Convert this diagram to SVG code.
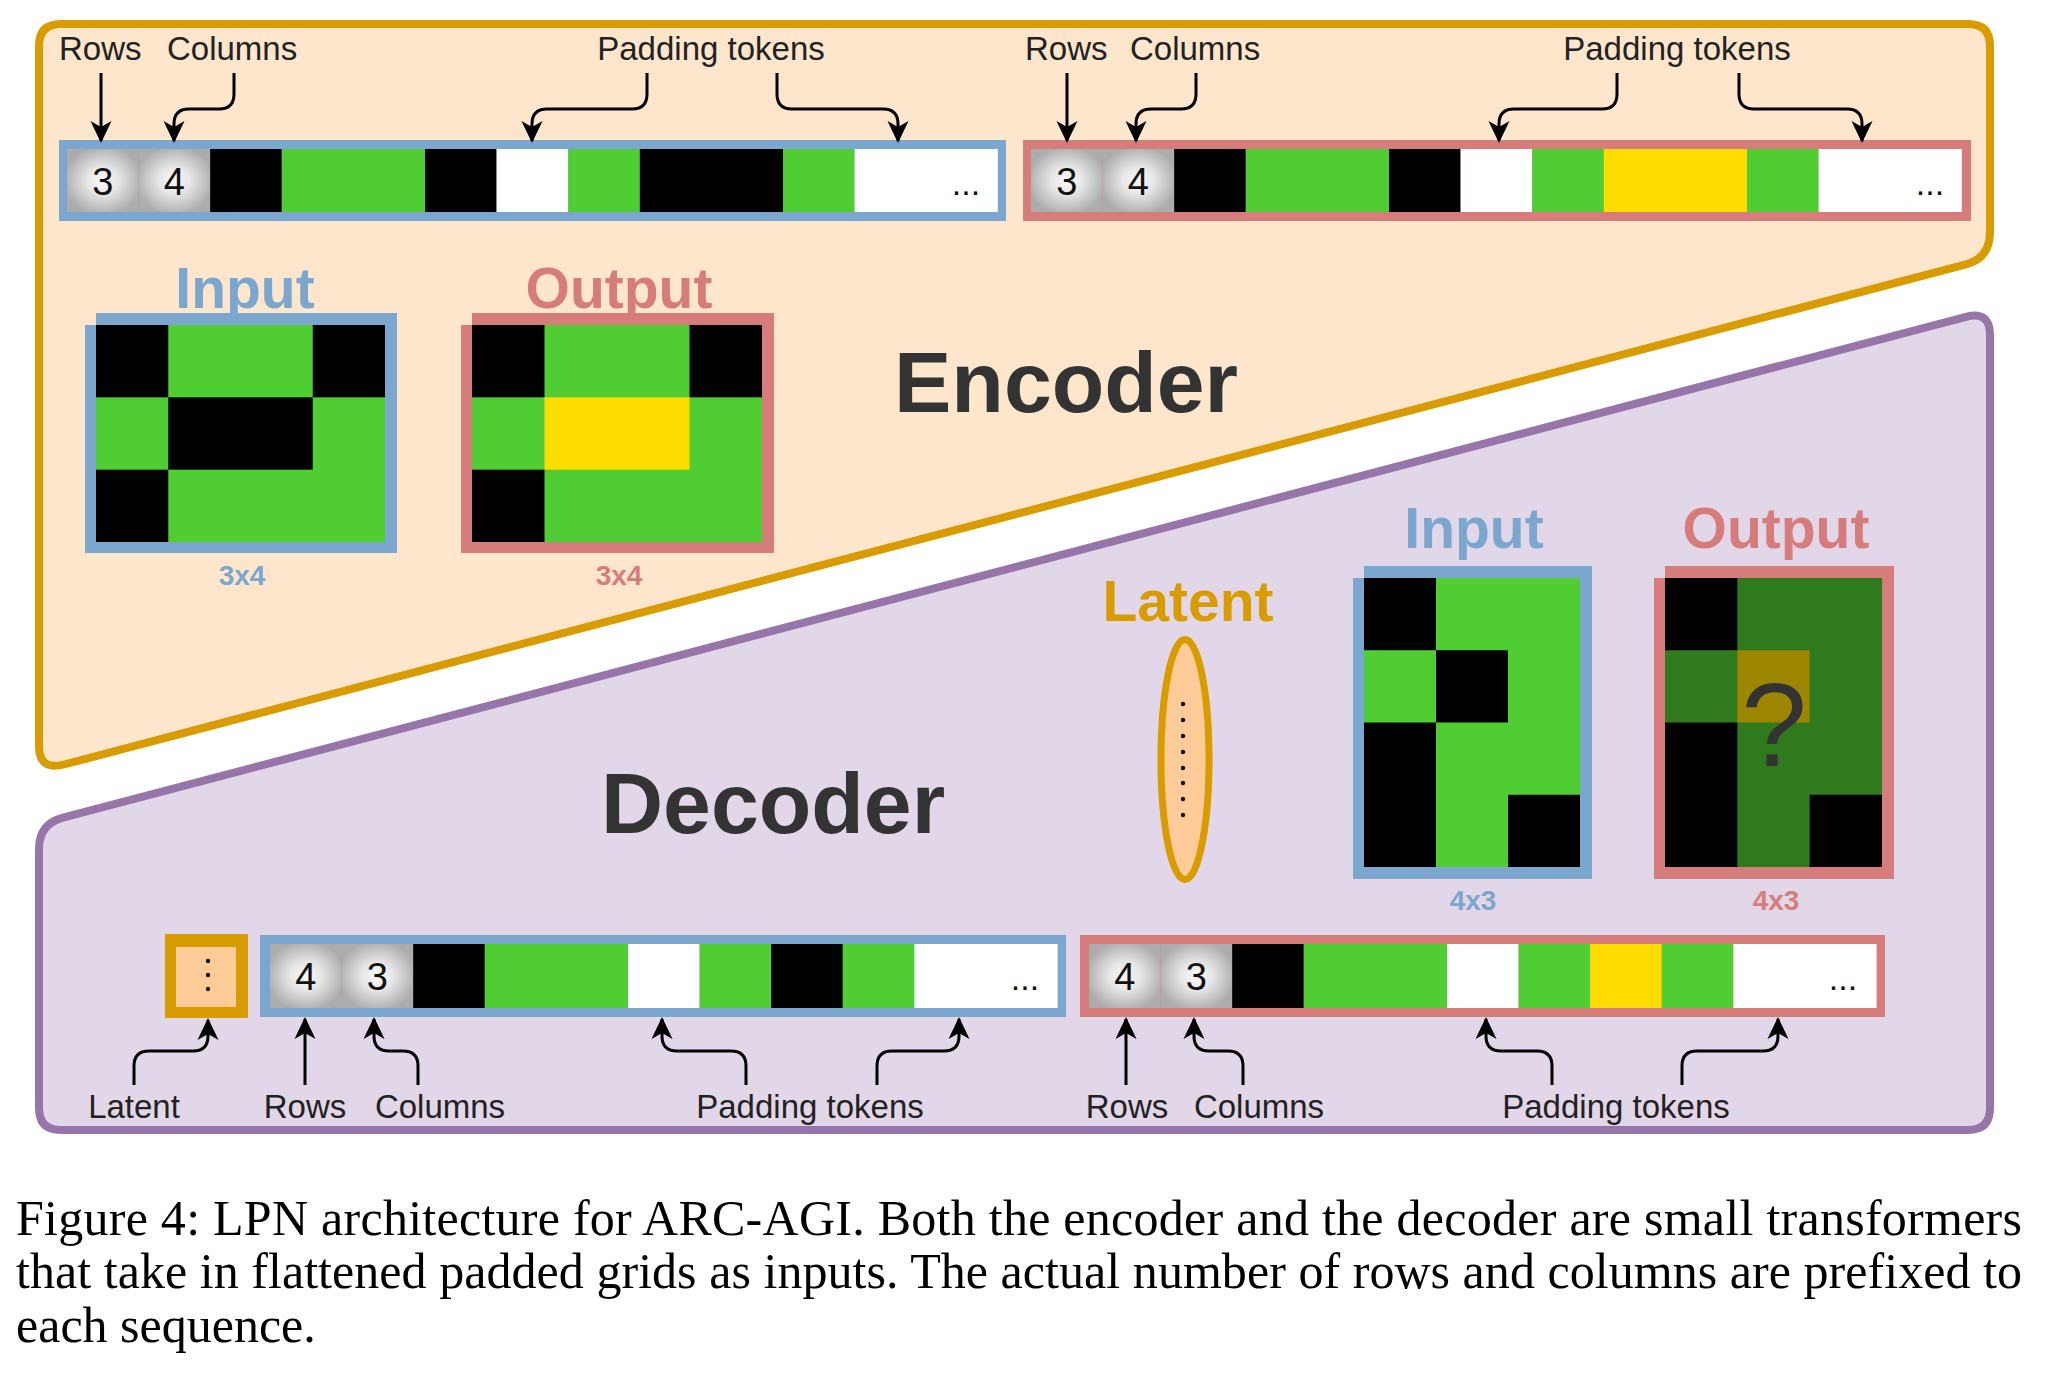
<svg xmlns="http://www.w3.org/2000/svg" width="2048" height="1376" viewBox="0 0 2048 1376">
<style>
.lbl{font-family:"Liberation Sans",Arial,sans-serif;font-size:33px;fill:#222}
.num{font-family:"Liberation Sans",Arial,sans-serif;font-size:38px;fill:#111;text-anchor:middle}
.dots{font-family:"Liberation Sans",Arial,sans-serif;font-size:34px;fill:#111;text-anchor:middle}
.big{font-family:"Liberation Sans",Arial,sans-serif;font-weight:bold;font-size:86px;fill:#333}
.gl{font-family:"Liberation Sans",Arial,sans-serif;font-weight:bold;font-size:57px;text-anchor:middle}
.dim{font-family:"Liberation Sans",Arial,sans-serif;font-weight:bold;font-size:28px;text-anchor:middle}
.cap{font-family:"Liberation Serif","Times New Roman",serif;font-size:50px;fill:#000}
.arr{fill:none;stroke:#000;stroke-width:3}
.G{fill:#50CD32}.B{fill:#000}.W{fill:#fff}.Y{fill:#FFDC00}.Gr{fill:url(#gray)}
.DG{fill:#2F7A1D}.DY{fill:#9C8600}
</style>
<defs>
<radialGradient id="gray" cx="0.5" cy="0.5" r="0.55">
<stop offset="0" stop-color="#fafafa"/>
<stop offset="0.4" stop-color="#e6e6e6"/>
<stop offset="1" stop-color="#acacac"/>
</radialGradient>
<marker id="ah" markerUnits="userSpaceOnUse" markerWidth="28" markerHeight="26" viewBox="-24 -13 28 26" refX="0" refY="0" orient="auto">
<path d="M2,0 L-20,-10.5 L-14,0 L-20,10.5 Z" fill="#000"/>
</marker>
</defs>

<rect width="2048" height="1376" fill="#fff"/>

<!-- Encoder panel -->
<g id="encoder-panel">
<path d="M39,46 Q39,24 61,24 H1968 Q1990,24 1990,46 V232 Q1990,258 1966,264.3 L64,764.5 Q39,771 39,746 Z" fill="#FEE6CD" stroke="#D89C00" stroke-width="8" stroke-linejoin="round"/>
<text class="big" x="894" y="412">Encoder</text>
</g>

<!-- Decoder panel -->
<g id="decoder-panel">
<path d="M39,849 Q39,824 63,817.7 L1966,316.8 Q1990,310.5 1990,335 V1108 Q1990,1130 1968,1130 H61 Q39,1130 39,1108 Z" fill="#E2D6E9" stroke="#9775A8" stroke-width="8" stroke-linejoin="round"/>
<text class="big" x="601" y="833">Decoder</text>
</g>

<!-- Encoder input sequence -->
<g id="enc-in-seq">
<rect x="59" y="140" width="947" height="81" fill="#7BA6CE"/>
<rect class="Gr" x="67" y="149" width="71.6" height="63"/>
<rect class="Gr" x="138.6" y="149" width="71.6" height="63"/>
<rect class="B" x="210.2" y="149" width="71.6" height="63"/>
<rect class="G" x="281.8" y="149" width="143.2" height="63"/>
<rect class="B" x="425" y="149" width="71.6" height="63"/>
<rect class="W" x="496.6" y="149" width="71.6" height="63"/>
<rect class="G" x="568.2" y="149" width="71.6" height="63"/>
<rect class="B" x="639.8" y="149" width="143.2" height="63"/>
<rect class="G" x="783" y="149" width="71.6" height="63"/>
<rect class="W" x="854.6" y="149" width="143.2" height="63"/>
<text class="num" x="102.8" y="195">3</text>
<text class="num" x="174.4" y="195">4</text>
<text class="dots" x="966" y="195">...</text>
</g>

<!-- Encoder output sequence -->
<g id="enc-out-seq">
<rect x="1023" y="140" width="948" height="81" fill="#D67D7B"/>
<rect class="Gr" x="1031" y="149" width="71.6" height="63"/>
<rect class="Gr" x="1102.6" y="149" width="71.6" height="63"/>
<rect class="B" x="1174.2" y="149" width="71.6" height="63"/>
<rect class="G" x="1245.8" y="149" width="143.2" height="63"/>
<rect class="B" x="1389" y="149" width="71.6" height="63"/>
<rect class="W" x="1460.6" y="149" width="71.6" height="63"/>
<rect class="G" x="1532.2" y="149" width="71.6" height="63"/>
<rect class="Y" x="1603.8" y="149" width="143.2" height="63"/>
<rect class="G" x="1747" y="149" width="71.6" height="63"/>
<rect class="W" x="1818.6" y="149" width="143.2" height="63"/>
<text class="num" x="1066.8" y="195">3</text>
<text class="num" x="1138.4" y="195">4</text>
<text class="dots" x="1930" y="195">...</text>
</g>

<!-- Encoder labels -->
<g id="enc-labels">
<text class="lbl" x="59" y="60">Rows</text>
<text class="lbl" x="167" y="60">Columns</text>
<text class="lbl" x="711" y="60" text-anchor="middle">Padding tokens</text>
<text class="lbl" x="1025" y="60">Rows</text>
<text class="lbl" x="1130" y="60">Columns</text>
<text class="lbl" x="1677" y="60" text-anchor="middle">Padding tokens</text>
</g>

<!-- Encoder input grid -->
<g id="enc-input-grid">
<text class="gl" x="245" y="308" fill="#7BA6CE">Input</text>
<rect x="96" y="313" width="301" height="240" fill="#7BA6CE"/>
<rect x="85" y="325" width="12" height="228" fill="#7BA6CE"/>
<rect class="G" x="96" y="325" width="289" height="217"/>
<rect class="B" x="96" y="325" width="72.25" height="72.33"/>
<rect class="B" x="312.75" y="325" width="72.25" height="72.33"/>
<rect class="B" x="168.25" y="397.33" width="144.5" height="72.34"/>
<rect class="B" x="96" y="469.67" width="72.25" height="72.33"/>
<text class="dim" x="242" y="585" fill="#7BA6CE">3x4</text>
</g>

<!-- Encoder output grid -->
<g id="enc-output-grid">
<text class="gl" x="619" y="308" fill="#D67D7B">Output</text>
<rect x="472" y="313" width="302" height="240" fill="#D67D7B"/>
<rect x="461" y="325" width="12" height="228" fill="#D67D7B"/>
<rect class="G" x="472" y="325" width="290" height="217"/>
<rect class="B" x="472" y="325" width="72.5" height="72.33"/>
<rect class="B" x="689.5" y="325" width="72.5" height="72.33"/>
<rect class="Y" x="544.5" y="397.33" width="145" height="72.34"/>
<rect class="B" x="472" y="469.67" width="72.5" height="72.33"/>
<text class="dim" x="619" y="585" fill="#D67D7B">3x4</text>
</g>

<!-- Latent ellipse -->
<g id="latent-vector">
<text class="gl" x="1188" y="621" fill="#D89C00">Latent</text>
<ellipse cx="1185" cy="759.5" rx="24" ry="120" fill="#FFCC99" stroke="#D89C00" stroke-width="7"/>
<g fill="#111">
<circle cx="1183" cy="704" r="2.2"/><circle cx="1183" cy="720" r="2.2"/><circle cx="1183" cy="736" r="2.2"/><circle cx="1183" cy="752" r="2.2"/>
<circle cx="1183" cy="768" r="2.2"/><circle cx="1183" cy="783" r="2.2"/><circle cx="1183" cy="799" r="2.2"/><circle cx="1183" cy="815" r="2.2"/>
</g>
</g>

<!-- Decoder input grid -->
<g id="dec-input-grid">
<text class="gl" x="1474" y="548" fill="#7BA6CE">Input</text>
<rect x="1364" y="566" width="228" height="313" fill="#7BA6CE"/>
<rect x="1353" y="578" width="12" height="301" fill="#7BA6CE"/>
<rect class="G" x="1364" y="578" width="216" height="289"/>
<rect class="B" x="1364" y="578" width="72" height="72.25"/>
<rect class="B" x="1436" y="650.25" width="72" height="72.25"/>
<rect class="B" x="1364" y="722.5" width="72" height="144.5"/>
<rect class="B" x="1508" y="794.75" width="72" height="72.25"/>
<text class="dim" x="1473" y="910" fill="#7BA6CE">4x3</text>
</g>

<!-- Decoder output grid -->
<g id="dec-output-grid">
<text class="gl" x="1776" y="548" fill="#D67D7B">Output</text>
<rect x="1665" y="566" width="229" height="313" fill="#D67D7B"/>
<rect x="1654" y="578" width="12" height="301" fill="#D67D7B"/>
<rect class="DG" x="1665" y="578" width="217" height="289"/>
<rect class="B" x="1665" y="578" width="72.33" height="72.25"/>
<rect class="DY" x="1737.33" y="650.25" width="72.34" height="72.25"/>
<rect class="B" x="1665" y="722.5" width="72.33" height="144.5"/>
<rect class="B" x="1809.67" y="794.75" width="72.33" height="72.25"/>
<text x="1774" y="766" text-anchor="middle" font-family="Liberation Sans, Arial, sans-serif" font-size="118" fill="#333">?</text>
<text class="dim" x="1776" y="910" fill="#D67D7B">4x3</text>
</g>

<!-- Decoder latent token -->
<g id="dec-latent-token">
<rect x="165" y="934" width="83" height="84" fill="#D89C00"/>
<rect x="176" y="947" width="60" height="60" fill="#FFCC99"/>
<circle cx="208" cy="961" r="2.2" fill="#111"/>
<circle cx="208" cy="975" r="2.2" fill="#111"/>
<circle cx="208" cy="989" r="2.2" fill="#111"/>
</g>

<!-- Decoder input sequence -->
<g id="dec-in-seq">
<rect x="260" y="935" width="806" height="82" fill="#7BA6CE"/>
<rect class="Gr" x="270" y="944" width="71.6" height="64"/>
<rect class="Gr" x="341.6" y="944" width="71.6" height="64"/>
<rect class="B" x="413.2" y="944" width="71.6" height="64"/>
<rect class="G" x="484.8" y="944" width="143.2" height="64"/>
<rect class="W" x="628" y="944" width="71.6" height="64"/>
<rect class="G" x="699.6" y="944" width="71.6" height="64"/>
<rect class="B" x="771.2" y="944" width="71.6" height="64"/>
<rect class="G" x="842.8" y="944" width="71.6" height="64"/>
<rect class="W" x="914.4" y="944" width="143.2" height="64"/>
<text class="num" x="305.8" y="990">4</text>
<text class="num" x="377.4" y="990">3</text>
<text class="dots" x="1025" y="990">...</text>
</g>

<!-- Decoder output sequence -->
<g id="dec-out-seq">
<rect x="1080" y="935" width="805" height="82" fill="#D67D7B"/>
<rect class="Gr" x="1089" y="944" width="71.6" height="64"/>
<rect class="Gr" x="1160.6" y="944" width="71.6" height="64"/>
<rect class="B" x="1232.2" y="944" width="71.6" height="64"/>
<rect class="G" x="1303.8" y="944" width="143.2" height="64"/>
<rect class="W" x="1447" y="944" width="71.6" height="64"/>
<rect class="G" x="1518.6" y="944" width="71.6" height="64"/>
<rect class="Y" x="1590.2" y="944" width="71.6" height="64"/>
<rect class="G" x="1661.8" y="944" width="71.6" height="64"/>
<rect class="W" x="1733.4" y="944" width="143.2" height="64"/>
<text class="num" x="1124.8" y="990">4</text>
<text class="num" x="1196.4" y="990">3</text>
<text class="dots" x="1843" y="990">...</text>
</g>

<!-- Decoder labels -->
<g id="dec-labels">
<text class="lbl" x="134" y="1118" text-anchor="middle">Latent</text>
<text class="lbl" x="305" y="1118" text-anchor="middle">Rows</text>
<text class="lbl" x="440" y="1118" text-anchor="middle">Columns</text>
<text class="lbl" x="810" y="1118" text-anchor="middle">Padding tokens</text>
<text class="lbl" x="1127" y="1118" text-anchor="middle">Rows</text>
<text class="lbl" x="1259" y="1118" text-anchor="middle">Columns</text>
<text class="lbl" x="1616" y="1118" text-anchor="middle">Padding tokens</text>
</g>

<!-- Connectors -->
<g id="connectors">
<path class="arr" marker-end="url(#ah)" d="M101,73 V141"/>
<path class="arr" marker-end="url(#ah)" d="M234,73 V94 Q234,109 219,109 H189 Q174,109 174,124 V141"/>
<path class="arr" marker-end="url(#ah)" d="M647,73 V94 Q647,109 632,109 H547 Q532,109 532,124 V141"/>
<path class="arr" marker-end="url(#ah)" d="M777,73 V94 Q777,109 792,109 H883 Q898,109 898,124 V141"/>
<path class="arr" marker-end="url(#ah)" d="M1067,73 V141"/>
<path class="arr" marker-end="url(#ah)" d="M1196,73 V94 Q1196,109 1181,109 H1151 Q1136,109 1136,124 V141"/>
<path class="arr" marker-end="url(#ah)" d="M1617,73 V94 Q1617,109 1602,109 H1514 Q1499,109 1499,124 V141"/>
<path class="arr" marker-end="url(#ah)" d="M1739,73 V94 Q1739,109 1754,109 H1847 Q1862,109 1862,124 V141"/>
<path class="arr" marker-end="url(#ah)" d="M134,1085 V1066 Q134,1051 149,1051 H193 Q208,1051 208,1036 V1020"/>
<path class="arr" marker-end="url(#ah)" d="M305,1085 V1019"/>
<path class="arr" marker-end="url(#ah)" d="M418,1085 V1066 Q418,1051 403,1051 H389 Q374,1051 374,1036 V1019"/>
<path class="arr" marker-end="url(#ah)" d="M746,1085 V1066 Q746,1051 731,1051 H677 Q662,1051 662,1036 V1019"/>
<path class="arr" marker-end="url(#ah)" d="M877,1085 V1066 Q877,1051 892,1051 H944 Q959,1051 959,1036 V1019"/>
<path class="arr" marker-end="url(#ah)" d="M1126,1085 V1019"/>
<path class="arr" marker-end="url(#ah)" d="M1243,1085 V1066 Q1243,1051 1228,1051 H1209 Q1194,1051 1194,1036 V1019"/>
<path class="arr" marker-end="url(#ah)" d="M1552,1085 V1066 Q1552,1051 1537,1051 H1501 Q1486,1051 1486,1036 V1019"/>
<path class="arr" marker-end="url(#ah)" d="M1682,1085 V1066 Q1682,1051 1697,1051 H1763 Q1778,1051 1778,1036 V1019"/>
</g>

<!-- Caption -->
<g id="caption">
<text class="cap" x="16" y="1235" textLength="2006" lengthAdjust="spacing">Figure 4: LPN architecture for ARC-AGI. Both the encoder and the decoder are small transformers</text>
<text class="cap" x="16" y="1288" textLength="2006" lengthAdjust="spacing">that take in flattened padded grids as inputs. The actual number of rows and columns are prefixed to</text>
<text class="cap" x="16" y="1342">each sequence.</text>
</g>
</svg>
